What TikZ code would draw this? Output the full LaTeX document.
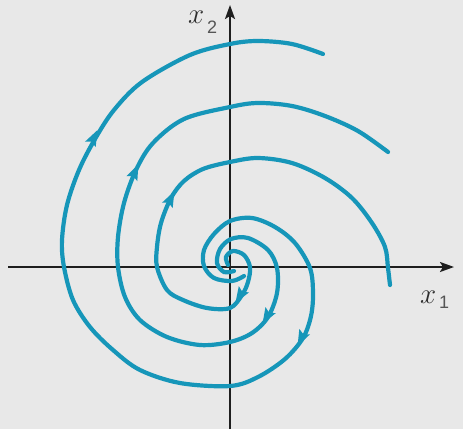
\documentclass[tikz,border=0pt]{standalone}
\usepackage{fix-cm}
\usepackage{fontspec}
\newfontfamily\labsans{Liberation Sans}
\usetikzlibrary{arrows.meta,decorations.markings}
\definecolor{bg}{HTML}{E8E8E8}
\definecolor{spir}{RGB}{22,150,185}
\definecolor{axc}{HTML}{1E1E1E}
\definecolor{labc}{HTML}{2E2E2E}
\definecolor{subc}{HTML}{555555}
\begin{document}
\begin{tikzpicture}[x=1pt,y=-1pt,
  spiral/.style={draw=spir, line width=4.2pt, line cap=round},
  flowtip/.style={postaction={decorate}, decoration={markings,
     mark=at position 1 with {\fill[spir] (1pt,0pt) -- (-15pt,6pt) -- (-12pt,0pt) -- (-15pt,-6pt) -- cycle;}}},
  axis/.style={draw=axc, line width=2.2pt, -{Stealth[length=14pt,width=10pt,inset=3pt]}},
  lab/.style={text=labc, inner sep=0pt, anchor=base west, font=\fontsize{29}{29}\selectfont},
  sub/.style={text=subc, inner sep=0pt, anchor=base west, font=\labsans\fontsize{18}{18}\selectfont}]
\fill[bg] (0,0) rectangle (463,429);
\useasboundingbox (0,0) rectangle (463,429);
% axes
\coordinate (xl) at (8,267);
\coordinate (xr) at (454,267);
\coordinate (yb) at (230,429);
\coordinate (yt) at (230,5);
\draw[axis] (xl) -- (xr);
\draw[axis] (yb) -- (yt);
% spiral A (outermost)
\draw[spiral] plot[smooth, tension=0.55] coordinates {
 (244,276) (232,281) (214,278) (204,266) (204,250) (214,234) (230,221)
 (252,218) (275,227) (295,243) (310,268) (313,293) (311,316) (303,338)
 (285,359) (258,377) (230,386) (180,383) (140,370) (113,350) (90,327)
 (73,300) (64,267) (62,240) (67,205) (79,170) (95,139) (114,110) (142,82)
 (190,55) (230,44) (258,41) (292,44) (323,54)};
% spiral B
\draw[spiral] plot[smooth, tension=0.55] coordinates {
 (234,271) (224,272) (217,263) (220,249) (231,239) (248,238) (268,250)
 (277,268) (277,293) (268,317) (252,333) (230,342) (200,345) (167,337)
 (140,320) (125,297) (118,267) (118,237) (124,203) (136,170) (153,143)
 (184,119) (230,107) (258,103) (292,106) (325,116) (358,131) (388,152)};
% spiral C
\draw[spiral] plot[smooth, tension=0.55] coordinates {
 (228,265) (226,257) (233,251) (244,255) (250,267) (248,282) (242,295)
 (230,308) (207,308) (183,300) (167,290) (157,267) (157,247) (161,223)
 (171,198) (184,181) (203,169) (230,162) (258,158) (292,163) (325,178)
 (352,198) (372,223) (385,247) (388,268) (390,285)};
% flow arrows
\coordinate (a1s) at (88,149); \coordinate (a1e) at (97,131);
\coordinate (a2s) at (309,323); \coordinate (a2e) at (298,345);
\coordinate (b1s) at (129,185); \coordinate (b1e) at (138,165);
\coordinate (b2s) at (276,301); \coordinate (b2e) at (263,323);
\coordinate (c1s) at (164,212); \coordinate (c1e) at (174,192);
\coordinate (c2s) at (249,281); \coordinate (c2e) at (236,302);
\path[flowtip] (a1s) -- (a1e);
\path[flowtip] (a2s) -- (a2e);
\path[flowtip] (b1s) -- (b1e);
\path[flowtip] (b2s) -- (b2e);
\path[flowtip] (c1s) -- (c1e);
\path[flowtip] (c2s) -- (c2e);
% labels
\node[lab] (lx2) at (188,23) {$x$};
\node[sub] (lx2s) at (207,33) {2};
\node[lab] (lx1) at (420,303) {$x$};
\node[sub] (lx1s) at (439,308) {1};
\end{tikzpicture}
\end{document}
